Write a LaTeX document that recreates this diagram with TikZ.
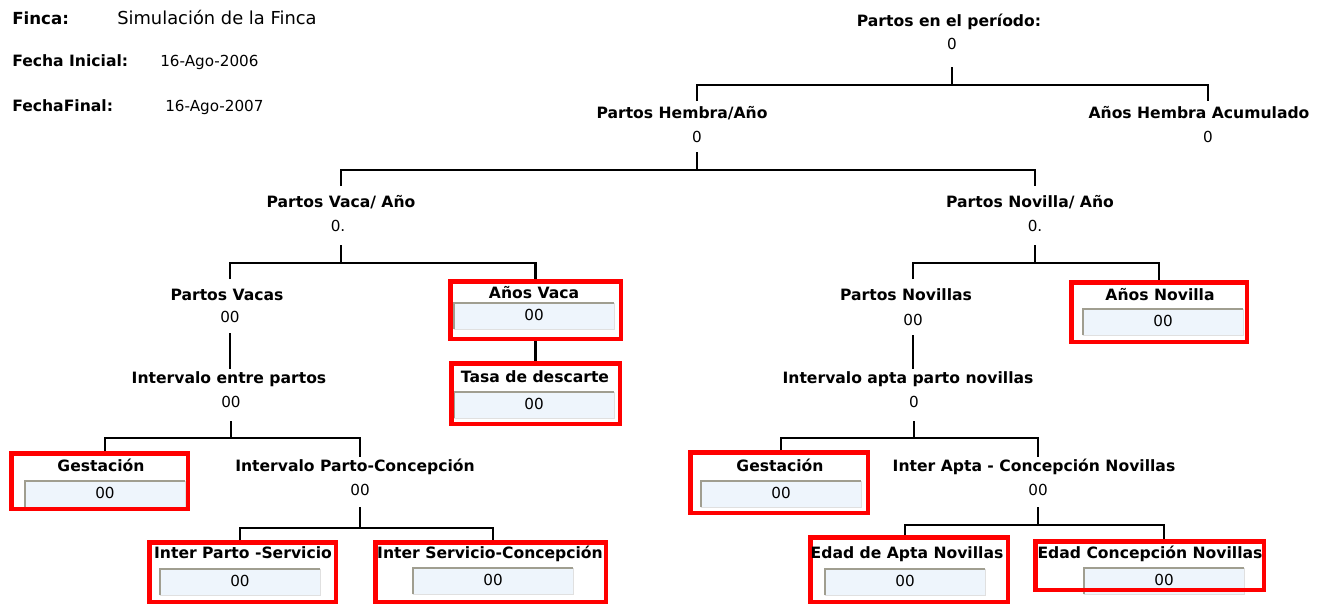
\documentclass[tikz,border=0pt]{standalone}
\usepackage{fontspec}
\setmainfont{DejaVu Sans}
\newcommand\pix{0.75pt}
\definecolor{rojo}{RGB}{255,0,0}
\definecolor{celda}{RGB}{238,245,252}
\definecolor{bisel}{RGB}{160,158,144}

\begin{document}
\begin{tikzpicture}[x=\pix, y=-\pix,
    lbl/.style={font=\bfseries\fontsize{11.7}{13}\selectfont, inner sep=0, text height=8.5pt, text depth=2.2pt},
    val/.style={font=\fontsize{11.4}{13}\selectfont, inner sep=0, text height=8.3pt, text depth=2pt},
    rama/.style={line width=2.1pt},
    marco/.style={draw=rojo, line width=3.4pt, anchor=north west, inner sep=0},
    campo/.style={val, fill=celda, minimum width=160*\pix, minimum height=26*\pix},
    borde/.style={draw=bisel, line width=1.5pt}]
  \useasboundingbox (0,0) rectangle (1324,604);

  % cabecera
  \node[lbl, anchor=west, font=\bfseries\fontsize{12.5}{14}\selectfont] (fin) at (12,20) {Finca:};
  \node[val, anchor=west, font=\fontsize{13.4}{15}\selectfont] (finv) at (117,20) {Simulación de la Finca};
  \node[lbl, anchor=west] (fi) at (12,62) {Fecha Inicial:};
  \node[val, anchor=west] (fiv) at (160,62) {16-Ago-2006};
  \node[lbl, anchor=west] (ff) at (12,107) {FechaFinal:};
  \node[val, anchor=west] (ffv) at (165,107) {16-Ago-2007};

  % arbol
  \node[lbl] (pe) at (949,22) {Partos en el período:};
  \node[val] (pe0) at (952,45) {0};
  \node[lbl] (ph) at (682,114) {Partos Hembra/Año};
  \node[val] (ph0) at (697,138) {0};
  \node[lbl] (ah) at (1199,114) {Años Hembra Acumulado};
  \node[val] (ah0) at (1208,138) {0};
  \node[lbl] (pva) at (341,203) {Partos Vaca/ Año};
  \node[val] (pva0) at (338,227) {0.};
  \node[lbl] (pno) at (1030,203) {Partos Novilla/ Año};
  \node[val] (pno0) at (1035,227) {0.};
  \node[lbl] (pvs) at (227,296) {Partos Vacas};
  \node[val] (pvs0) at (230,318) {00};
  \node[lbl] (iep) at (229,379) {Intervalo entre partos};
  \node[val] (iep0) at (231,403) {00};
  \node[lbl] (ipc) at (355,467) {Intervalo Parto-Concepción};
  \node[val] (ipc0) at (360,491) {00};
  \node[lbl] (pnv) at (906,296) {Partos Novillas};
  \node[val] (pnv0) at (913,321) {00};
  \node[lbl] (iapn) at (908,379) {Intervalo apta parto novillas};
  \node[val] (iapn0) at (914,403) {0};
  \node[lbl] (iacn) at (1034,467) {Inter Apta - Concepción Novillas};
  \node[val] (iacn0) at (1038,491) {00};

  % campos
  \node[campo] (avc) at (534,316) {00};
  \node[campo] (tdc) at (534,405) {00};
  \node[campo] (g1c) at (105,494) {00};
  \node[campo] (ipsc) at (240,582) {00};
  \node[campo] (iscc) at (493,581) {00};
  \node[campo] (anc) at (1163,322) {00};
  \node[campo] (g2c) at (781,494) {00};
  \node[campo] (eapc) at (905,582) {00};
  \node[campo] (ecnc) at (1164,581) {00};
  \foreach \c in {avc,tdc,g1c,ipsc,iscc,anc,g2c,eapc,ecnc} {
    \draw[white!88!black, line width=1pt] (\c.south west) -| (\c.north east);
    \draw[borde] (\c.south west) |- (\c.north east);
  }

  % marcos
  \node[marco, minimum width=170.5*\pix, minimum height=57.5*\pix] (av) at (448,279) {};
  \node[marco, minimum width=168.5*\pix, minimum height=60.5*\pix] (td) at (449,361) {};
  \node[marco, minimum width=176.5*\pix, minimum height=55.5*\pix] (g1) at (9,451) {};
  \node[marco, minimum width=186.5*\pix, minimum height=59.5*\pix] (ips) at (147,540) {};
  \node[marco, minimum width=230.5*\pix, minimum height=59.5*\pix] (isc) at (373,540) {};
  \node[marco, minimum width=175.5*\pix, minimum height=59.5*\pix] (an) at (1069,280) {};
  \node[marco, minimum width=177.5*\pix, minimum height=60.5*\pix] (g2) at (688,450) {};
  \node[marco, minimum width=197.5*\pix, minimum height=64.5*\pix] (eap) at (808,535) {};
  \node[marco, minimum width=228.5*\pix, minimum height=48.5*\pix] (ecn) at (1033,539) {};

  \node[lbl] (avt) at (534,294) {Años Vaca};
  \node[lbl] (tdt) at (535,378) {Tasa de descarte};
  \node[lbl] (g1t) at (101,467) {Gestación};
  \node[lbl] (ipst) at (243,554) {Inter Parto -Servicio};
  \node[lbl] (isct) at (490,554) {Inter Servicio-Concepción};
  \node[lbl] (ant) at (1160,296) {Años Novilla};
  \node[lbl] (g2t) at (780,467) {Gestación};
  \node[lbl] (eapt) at (907,554) {Edad de Apta Novillas};
  \node[lbl] (ecnt) at (1150,554) {Edad Concepción Novillas};

  % ramas
  \draw[rama] (pe0 |- 0,67) -- (pe0 |- 0,85)
    (ph0 |- 0,101) |- (ah0 |- 0,85) -- (ah0 |- 0,101);
  \draw[rama] (ph0 |- 0,152) -- (ph0 |- 0,170)
    (pva |- 0,186) |- (pno0 |- 0,170) -- (pno0 |- 0,186);
  \draw[rama] (pva |- 0,245) -- (pva |- 0,263)
    (pvs0 |- 0,279) |- (av |- 0,263) -- (av.north);
  \draw[rama] (pno0 |- 0,245) -- (pno0 |- 0,263)
    (pnv0 |- 0,279) |- (an |- 0,263) -- (an.north);
  \draw[rama] (pvs0 |- 0,333) -- (pvs0 |- 0,369);
  \draw[rama] (av.south) -- (td.north);
  \draw[rama] (iep0 |- 0,421) -- (iep0 |- 0,438)
    (g1c |- g1.north) |- (ipc0 |- 0,438) -- (ipc0 |- 0,457);
  \draw[rama] (ipc0 |- 0,507) -- (ipc0 |- 0,528)
    (ipsc |- ips.north) |- (iscc |- 0,528) -- (iscc |- isc.north);
  \draw[rama] (pnv0 |- 0,335) -- (pnv0 |- 0,369);
  \draw[rama] (iapn0 |- 0,421) -- (iapn0 |- 0,438)
    (g2c |- g2.north) |- (iacn0 |- 0,438) -- (iacn0 |- 0,457);
  \draw[rama] (iacn0 |- 0,507) -- (iacn0 |- 0,525)
    (eapc |- eap.north) |- (ecnc |- 0,525) -- (ecnc |- ecn.north);
\end{tikzpicture}
\end{document}
